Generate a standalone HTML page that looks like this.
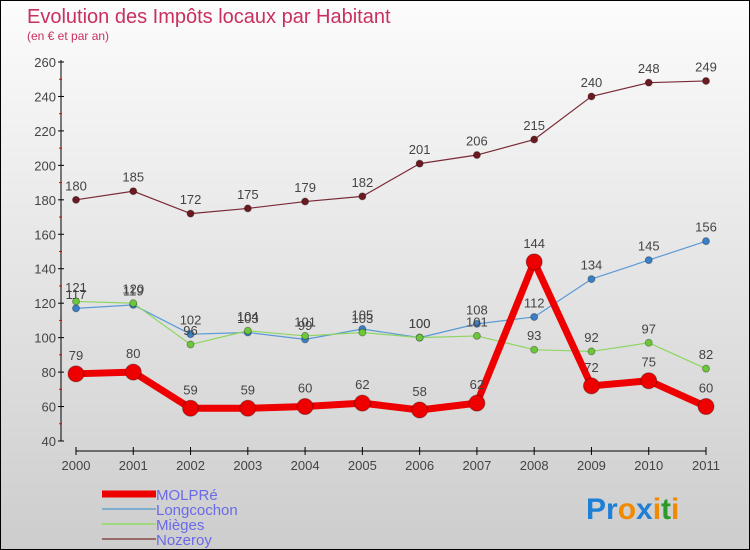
<!DOCTYPE html>
<html><head><meta charset="utf-8"><style>
body{margin:0}
#c{width:750px;height:550px;position:relative;box-sizing:border-box;border:1px solid #000;background:linear-gradient(#fcfcfc,#cdcdcd);font-family:"Liberation Sans",sans-serif;overflow:hidden}
</style></head><body>
<div id="c">
<svg id="s" width="750" height="550" style="position:absolute;left:0;top:0">
<text x="26" y="22" font-size="20" fill="#c8305f">Evolution des Impôts locaux par Habitant</text>
<text x="26" y="39" font-size="12" fill="#c8305f">(en € et par an)</text>
<g id="g"></g>
<g font-size="30" font-family="Liberation Sans" font-weight="bold">
<text x="585" y="518"><tspan fill="#1e7fd6">Pr</tspan><tspan fill="#f08a00">o</tspan><tspan fill="#1e7fd6">x</tspan><tspan fill="#f08a00">i</tspan><tspan fill="#2a9a2a">t</tspan><tspan fill="#f08a00">i</tspan></text>
</g>
</svg>
</div>
<script>
const years=["2000","2001","2002","2003","2004","2005","2006","2007","2008","2009","2010","2011"];
const yTicks=[40,60,80,100,120,140,160,180,200,220,240,260];
const molpre=[79,80,59,59,60,62,58,62,144,72,75,60];
const longcochon=[117,119,102,103,99,105,100,108,112,134,145,156];
const mieges=[121,120,96,104,101,103,100,101,93,92,97,82];
const nozeroy=[180,185,172,175,179,182,201,206,215,240,248,249];
const NS="http://www.w3.org/2000/svg";
const g=document.getElementById('g');
const X=i=>75+i*(630/11);
const Y=v=>440-(v-40)*(379/220);
function mk(t,a,p){const e=document.createElementNS(NS,t);for(const k in a)e.setAttribute(k,a[k]);(p||g).appendChild(e);return e;}
// axes
let ax=mk('line',{x1:60,y1:59,x2:60,y2:440,stroke:'#000','stroke-width':1});


let ax2=mk('line',{x1:75,y1:450,x2:705,y2:450,stroke:'#000','stroke-width':1});


yTicks.forEach(v=>{
 mk('line',{x1:57,y1:Y(v),x2:63,y2:Y(v),stroke:'#000'});
 const t=mk('text',{x:55,y:Y(v)+5,'text-anchor':'end','font-size':13,fill:'#444'});t.textContent=v;
 
 
 if(v<260)mk('line',{x1:58,y1:Y(v+10),x2:61,y2:Y(v+10),stroke:'#e00'});
});
years.forEach((y,i)=>{
 mk('line',{x1:X(i),y1:446,x2:X(i),y2:454,stroke:'#000'});
 const t=mk('text',{x:X(i),y:469,'text-anchor':'middle','font-size':13,fill:'#444'});t.textContent=y;
 
 
});
function series(d,col,w,r,name,dot){
 const pts=d.map((v,i)=>X(i)+','+Y(v)).join(' ');
 const l=mk('polyline',{points:pts,fill:'none',stroke:col,'stroke-width':w,'stroke-linejoin':'round'});
 
 
 d.forEach((v,i)=>{
  const c=mk('circle',{cx:X(i),cy:Y(v),r:r,fill:dot||col,stroke:'rgba(0,0,0,0.3)','stroke-width':1});
  
  
  const t=mk('text',{x:X(i),y:Y(v)-(r+6),'text-anchor':'middle','font-size':13,fill:'#444'});t.textContent=v;
  
  
 });
}
series(nozeroy,'#7a2a35',1.2,3.5,'nozeroy','#6a1a20');
series(longcochon,'#5a9ad6',1.2,3.5,'longcochon','#3a80c8');
series(mieges,'#8ed660',1.2,3.5,'mieges','#6cc83a');
series(molpre,'#ee0000',7,8,'molpre');
const leg=[['MOLPRé','#ee0000',7],['Longcochon','#80aed0',2],['Mièges','#a0d880',2],['Nozeroy','#9a6a6a',2]];
leg.forEach((e,i)=>{
 const y=493+i*15;
 const l=mk('line',{x1:101,y1:y,x2:155,y2:y,stroke:e[1],'stroke-width':e[2]});
 
 
 const t=mk('text',{x:155,y:y+6,'font-size':15,fill:'#6a6ae8'});t.textContent=e[0];
 
 
});
</script>
</body></html>
